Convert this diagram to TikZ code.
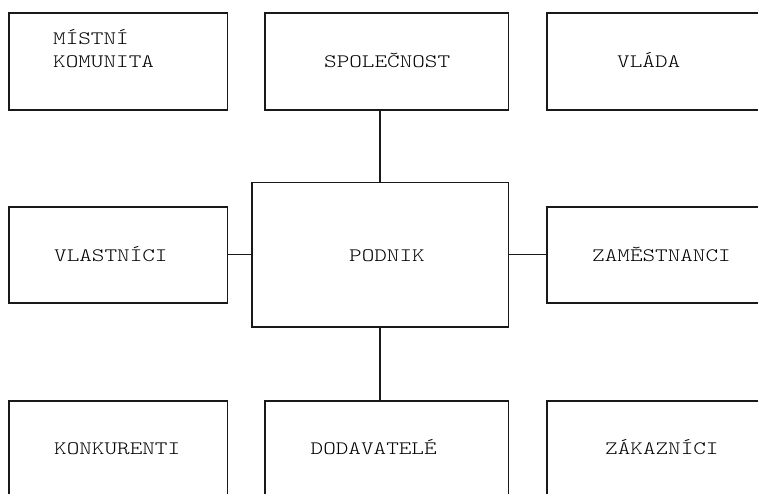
\documentclass[tikz,border=0pt]{standalone}
\usepackage{fontspec}
\newfontfamily\courlike{lmmonolt10-regular.otf}
\newcommand{\ct}[1]{\scalebox{1.263}[1]{\courlike\fontsize{19}{23}\selectfont #1}}
\begin{document}
\begin{tikzpicture}[x=1pt,y=-1pt,
  box/.style={draw=black!90,line width=1.6pt,rectangle,inner sep=0pt},
  lbl/.style={anchor=base west,inner sep=0pt,text=black},
  conn/.style={draw=black!90,line width=1.6pt}]
\useasboundingbox (0,0) rectangle (758,493);
\clip (0,0) rectangle (758,493);
% boxes
\node[box,minimum width=218.5pt,minimum height=97pt] (mk) at (118.25,61.5) {};
\node[box,minimum width=243.5pt,minimum height=97pt] (sp) at (386.75,61.5) {};
\node[box,minimum width=218.5pt,minimum height=97pt] (vl) at (656.25,61.5) {};
\node[box,minimum width=218.5pt,minimum height=96pt] (vla) at (118.25,255) {};
\node[box,minimum width=256.5pt,minimum height=144.4pt] (po) at (380.25,254.5) {};
\node[box,minimum width=218.5pt,minimum height=96pt] (za) at (656.25,255) {};
\node[box,minimum width=218.5pt,minimum height=100pt] (ko) at (118.25,450.7) {};
\node[box,minimum width=243.5pt,minimum height=100pt] (do) at (386.75,450.7) {};
\node[box,minimum width=218.5pt,minimum height=100pt] (zk) at (656.25,450.7) {};
% connectors
\draw[conn] (po.north) -- (po.north |- sp.south);
\draw[conn] (po.south) -- (po.south |- do.north);
\draw[conn] (po.west) -- (po.west -| vla.east);
\draw[conn] (po.east) -- (po.east -| za.west);
% labels
\node[lbl] (t1) at (53,44.5) {\ct{MÍSTNÍ}};
\node[lbl] (t2) at (53,67.5) {\ct{KOMUNITA}};
\node[lbl] (t3) at (324,67) {\ct{SPOLEČNOST}};
\node[lbl] (t4) at (617,67.5) {\ct{VLÁDA}};
\node[lbl] (t5) at (54,261.5) {\ct{VLASTNÍCI}};
\node[lbl] (t6) at (349,261) {\ct{PODNIK}};
\node[lbl] (t7) at (592,261.5) {\ct{ZAMĚSTNANCI}};
\node[lbl] (t8) at (54,454) {\ct{KONKURENTI}};
\node[lbl] (t9) at (310.5,454) {\ct{DODAVATELÉ}};
\node[lbl] (t10) at (605,454) {\ct{ZÁKAZNÍCI}};
\end{tikzpicture}
\end{document}
